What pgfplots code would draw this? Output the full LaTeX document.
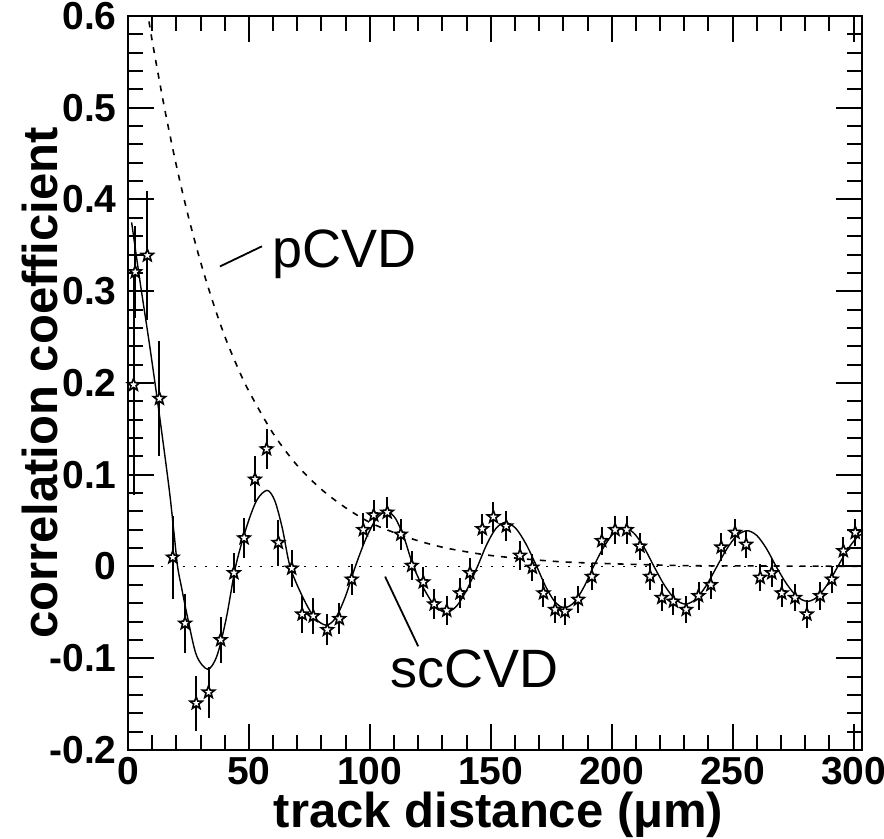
\documentclass[border=0pt]{standalone}
\usepackage{fontspec}
\setmainfont{Liberation Sans}
\usepackage{pgfplots}
\usepackage{pgfplotstable}
\pgfplotsset{compat=1.18}

\pgfdeclareplotmark{ostar}{%
  \pgfpathmoveto{\pgfpointpolar{90}{\pgfplotmarksize}}%
  \pgfpathlineto{\pgfpointpolar{126}{0.42\pgfplotmarksize}}%
  \pgfpathlineto{\pgfpointpolar{162}{\pgfplotmarksize}}%
  \pgfpathlineto{\pgfpointpolar{198}{0.42\pgfplotmarksize}}%
  \pgfpathlineto{\pgfpointpolar{234}{\pgfplotmarksize}}%
  \pgfpathlineto{\pgfpointpolar{270}{0.42\pgfplotmarksize}}%
  \pgfpathlineto{\pgfpointpolar{306}{\pgfplotmarksize}}%
  \pgfpathlineto{\pgfpointpolar{342}{0.42\pgfplotmarksize}}%
  \pgfpathlineto{\pgfpointpolar{18}{\pgfplotmarksize}}%
  \pgfpathlineto{\pgfpointpolar{54}{0.42\pgfplotmarksize}}%
  \pgfpathclose
  \pgfusepathqfillstroke
}

\pgfplotstableread{
x y e
2.3 0.198 0.12
3.0 0.321 0.05
8.0 0.339 0.07
13.0 0.183 0.063
18.5 0.010 0.045
23.6 -0.062 0.032
28.2 -0.149 0.030
33.3 -0.137 0.028
38.3 -0.080 0.025
43.8 -0.007 0.022
48.0 0.031 0.022
52.5 0.095 0.025
57.3 0.128 0.022
62.2 0.026 0.025
67.7 -0.002 0.020
72.0 -0.052 0.020
76.6 -0.054 0.020
82.4 -0.069 0.017
87.4 -0.057 0.017
92.5 -0.014 0.017
97.3 0.040 0.018
101.6 0.056 0.017
107.2 0.059 0.017
112.8 0.035 0.017
117.3 0.001 0.016
122.1 -0.017 0.016
126.6 -0.041 0.016
131.8 -0.048 0.016
137.3 -0.029 0.016
141.4 -0.007 0.016
146.5 0.041 0.016
151.1 0.054 0.016
156.4 0.044 0.016
162.1 0.012 0.016
167.2 -0.001 0.015
171.8 -0.029 0.015
176.6 -0.047 0.015
180.7 -0.049 0.015
186.2 -0.036 0.015
191.8 -0.011 0.015
195.9 0.028 0.015
201.4 0.040 0.015
206.2 0.040 0.015
211.7 0.022 0.015
215.9 -0.011 0.015
220.7 -0.034 0.015
225.5 -0.038 0.015
230.8 -0.047 0.015
235.9 -0.032 0.015
241.0 -0.020 0.015
245.3 0.021 0.015
251.0 0.037 0.015
255.6 0.024 0.015
261.4 -0.012 0.015
266.2 -0.007 0.015
270.3 -0.029 0.015
275.8 -0.034 0.015
280.7 -0.052 0.015
286.2 -0.032 0.015
291.0 -0.014 0.015
295.8 0.017 0.015
300.7 0.037 0.015
}\scdata

\begin{document}
\begin{tikzpicture}
\begin{axis}[
  at={(0,0)}, anchor=south west,
  scale only axis,
  width=367pt, height=367pt,
  xmin=0, xmax=303.5,
  ymin=-0.2, ymax=0.6,
  xtick={0,50,100,150,200,250,300},
  ytick={-0.2,-0.1,0,0.1,0.2,0.3,0.4,0.5,0.6},
  yticklabels={-0.2,-0.1,0,0.1,0.2,0.3,0.4,0.5,0.6},
  minor x tick num=4,
  minor y tick num=4,
  major tick length=13pt,
  minor tick length=7.5pt,
  tick align=inside,
  axis line style={line width=1pt},
  tick style={line width=1pt, black},
  /pgf/number format/assume math mode=true,
  tick label style={font=\fontsize{19.5}{19.5}\selectfont\bfseries},
  yticklabel style={inner sep=3.5pt, xshift=-2pt},
  every axis x label/.style={at={(axis description cs:0.505,-0.106)}, anchor=base},
  every axis y label/.style={at={(axis description cs:-0.0954,0.5)}, rotate=90, anchor=base},
  label style={font=\fontsize{24.5}{24.5}\selectfont\bfseries},
  xlabel={track distance (μm)},
  ylabel={correlation coefficient},
]
% zero line
\addplot[black, line width=0.9pt, dash pattern=on 1pt off 4.5pt] coordinates {(0,0) (303.5,0)};
% pCVD
\addplot[black, line width=0.8pt, dash pattern=on 3pt off 3.5pt, smooth] coordinates {
(7,0.622) (10,0.573) (15,0.501) (20,0.437) (25,0.381) (30,0.332) (35,0.289) (40,0.251)
(45,0.219) (50,0.191) (60,0.145) (70,0.110) (80,0.084) (90,0.064) (100,0.048) (110,0.037)
(120,0.028) (130,0.021) (140,0.016) (150,0.012) (165,0.008) (180,0.005) (200,0.003)
(230,0.001) (260,0.0006) (303.5,0.0002)};
% scCVD fit
\addplot[black, line width=0.7pt, smooth] coordinates {
(1.5,0.375) (5,0.31) (9,0.24) (13,0.165) (17,0.085) (19,0.037) (20.5,0.0) (22,-0.021)
(24.67,-0.056) (28.33,-0.097) (33,-0.112) (36.83,-0.097) (40.67,-0.056) (44.5,0)
(48.83,0.0415) (53.17,0.0719) (57.5,0.083) (60.67,0.0719) (63.83,0.0415) (67,0)
(72,-0.032) (77,-0.0554) (82,-0.064) (86,-0.0554) (90,-0.032) (94,0) (98.33,0.030)
(102.67,0.052) (107,0.060) (110.67,0.052) (114.33,0.030) (118,0) (122.5,-0.025)
(127,-0.0433) (131.5,-0.050) (135.83,-0.0433) (140.17,-0.025) (144.5,0) (148.33,0.024)
(152.17,0.0416) (156,0.048) (160.33,0.0416) (164.67,0.024) (169,0) (172.83,-0.0225)
(176.67,-0.039) (180.5,-0.045) (184.5,-0.039) (188.5,-0.0225) (192.5,0) (196.67,0.021)
(200.83,0.0364) (205,0.042) (209.17,0.0364) (213.33,0.021) (217.5,0) (221.83,-0.0205)
(226.17,-0.0355) (230.5,-0.041) (234.83,-0.0355) (239.17,-0.0205) (243.5,0)
(247.67,0.0195) (251.83,0.0338) (256,0.039) (260,0.0338) (264,0.0195) (268,0)
(272.33,-0.019) (276.67,-0.0329) (281,-0.038) (285.17,-0.0329) (289.33,-0.019)
(293.5,0) (297.67,0.019) (301.83,0.0329) (303.5,0.035)};
% data
\addplot[black, only marks, mark=ostar, mark size=3.2pt,
  mark options={fill=white, line width=0.8pt},
  error bars/.cd, y dir=both, y explicit, error mark=none,
  error bar style={line width=1pt}]
  table[x=x, y=y, y error=e] {\scdata};
% annotations
\draw[line width=0.9pt] (axis cs:38,0.327) -- (axis cs:55.4,0.349);
\draw[line width=0.9pt] (axis cs:106.3,-0.011) -- (axis cs:120,-0.087);
\node[anchor=base west, inner sep=0pt, font=\fontsize{27}{27}\selectfont] at (axis cs:59.6,0.326) {pCVD};
\node[anchor=base west, inner sep=0pt, font=\fontsize{27}{27}\selectfont] at (axis cs:108.4,-0.132) {scCVD};
\end{axis}
\pgfresetboundingbox
\path[use as bounding box] (-64pt,-44.5pt) rectangle (378pt,375pt);
\end{tikzpicture}
\end{document}
